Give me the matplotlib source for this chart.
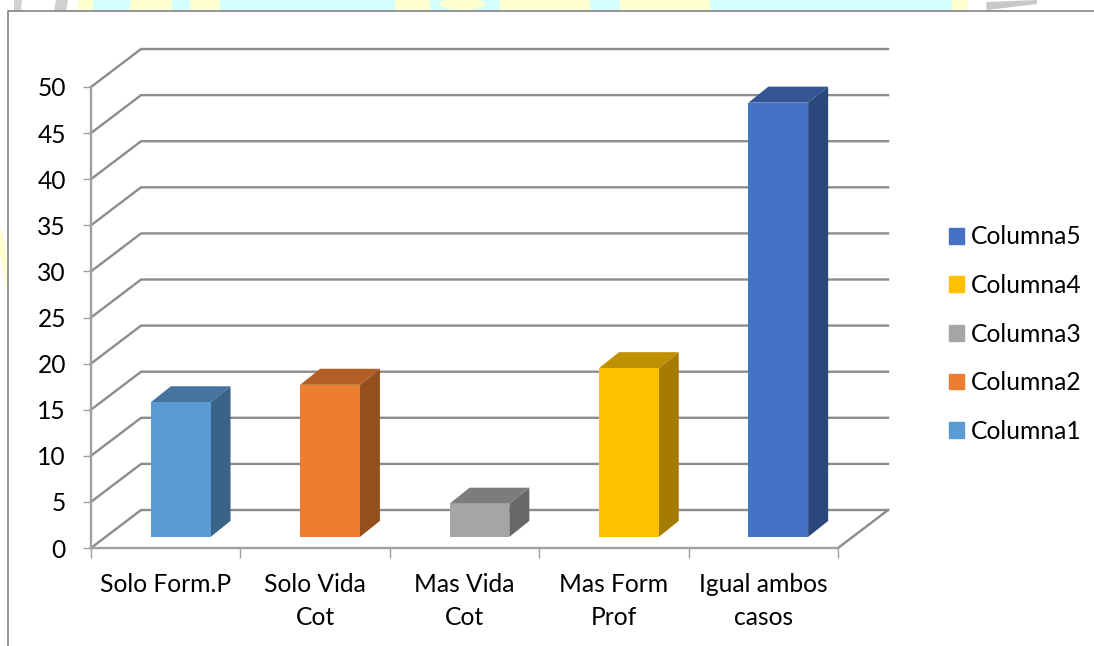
import matplotlib
matplotlib.use('Agg')
import matplotlib.pyplot as plt
from matplotlib.patches import Polygon, Rectangle, Ellipse, Patch

categories = ['Solo Form.P', 'Solo Vida\nCot', 'Mas Vida\nCot', 'Mas Form\nProf', 'Igual ambos\ncasos']
values = [14.6, 16.5, 3.6, 18.3, 47.1]
series = ['Columna1', 'Columna2', 'Columna3', 'Columna4', 'Columna5']
y_ticks = list(range(0, 55, 5))

front_colors = ['#5b9bd5', '#ed7d31', '#a5a5a5', '#ffc000', '#4472c4']
top_colors = ['#44749f', '#b25e25', '#7c7c7c', '#bf9000', '#335593']
side_colors = ['#3a6487', '#954f1f', '#686868', '#a67c00', '#2a477b']

W, H = 1094, 646
plt.rcParams['font.family'] = ['Lato', 'DejaVu Sans']
fig = plt.figure(figsize=(W / 100, H / 100), dpi=100)

# scraps of the page behind the chart, in pixels
bg = fig.add_axes([0, 0, 1, 1], zorder=0)
bg.set_xlim(0, W)
bg.set_ylim(H, 0)
bg.axis('off')
cyan = '#d5ffff'
yellow = '#ffffcf'
for x0, x1, c in [(78, 93, yellow), (93, 130, cyan), (130, 172, yellow), (172, 190, cyan),
                  (190, 220, yellow), (220, 395, cyan), (395, 430, yellow), (430, 500, cyan),
                  (500, 590, yellow), (590, 620, cyan), (620, 710, yellow), (710, 952, cyan),
                  (952, 968, yellow)]:
    bg.add_patch(Rectangle((x0, 0), x1 - x0, 11, color=c, lw=0))
bg.add_patch(Ellipse((462, 4), 46, 12, color=yellow, lw=0))
bg.add_patch(Polygon([(0, 228), (3, 235), (7, 260), (7, 292), (3, 270), (0, 255)], color=yellow, lw=0))
bg.add_patch(Polygon([(14, 0), (22, 0), (21, 11), (14, 11)], color='#d0d0d0', lw=0))
bg.add_patch(Polygon([(56, 0), (68, 0), (66, 11), (54, 11)], color='#d0d0d0', lw=0))
bg.add_patch(Polygon([(986, 2), (1037, 0), (1037, 4), (987, 10)], color='#c8c8c8', lw=0))
bg.plot([8, 8, W], [H, 11, 11], color='#8c8c8c', lw=1.3)

ax = fig.add_axes([91 / W, (H - 548) / H, 747 / W, 461 / H], zorder=1)
ax.patch.set_alpha(0)
ax.set_xlim(0, 5)
ax.set_ylim(0, 50)

depth_x, depth_y = 0.335, 4.12
grid_color = '#8c8c8c'
for v in y_ticks:
    ax.plot([0, depth_x, 5 + depth_x], [v, v + depth_y, v + depth_y],
            color=grid_color, lw=1.7, clip_on=False, solid_joinstyle='miter', zorder=1)
ax.plot([5, 5 + depth_x], [0, depth_y], color=grid_color, lw=1.7, clip_on=False, zorder=1)

# bars sit a little inside the floor
bar_left, bar_w, bar_base = 0.40, 0.40, 1.2
bar_dx, bar_dy = 0.134, 1.74
for i, v in enumerate(values):
    x0 = i + bar_left
    x1 = x0 + bar_w
    y0 = bar_base
    y1 = bar_base + v
    ax.add_patch(Polygon([(x1, y0), (x1 + bar_dx, y0 + bar_dy), (x1 + bar_dx, y1 + bar_dy), (x1, y1)],
                         color=side_colors[i], lw=0, clip_on=False, zorder=2))
    ax.add_patch(Polygon([(x0, y1), (x1, y1), (x1 + bar_dx, y1 + bar_dy), (x0 + bar_dx, y1 + bar_dy)],
                         color=top_colors[i], lw=0, clip_on=False, zorder=2))
    ax.add_patch(Rectangle((x0, y0), bar_w, v, color=front_colors[i], lw=0, clip_on=False, zorder=3))

for s in ['top', 'right']:
    ax.spines[s].set_visible(False)
for s in ['left', 'bottom']:
    ax.spines[s].set_color('#a0a0a0')
    ax.spines[s].set_linewidth(1.7)

ax.set_yticks(y_ticks)
ax.tick_params(axis='y', length=6, width=1, color='#a0a0a0', pad=12, labelsize=17.7, labelcolor='black')
ax.set_xticks(range(6))
ax.set_xticklabels([])
ax.tick_params(axis='x', which='major', length=7, width=1, color='#a0a0a0')
ax.set_xticks([i + 0.5 for i in range(5)], minor=True)
ax.set_xticklabels(categories, minor=True, fontsize=17.7, linespacing=1.51)
ax.tick_params(axis='x', which='minor', length=0, pad=18)

handles = [Patch(color=front_colors[i], label=series[i]) for i in range(4, -1, -1)]
fig.legend(handles=handles, loc='center left', bbox_to_anchor=(949 / W, (H - 334) / H),
           frameon=False, fontsize=17.7, handlelength=0.61, handleheight=0.61,
           handletextpad=0.28, labelspacing=1.04, borderpad=0, borderaxespad=0)

fig.savefig('out.png', dpi=100)
